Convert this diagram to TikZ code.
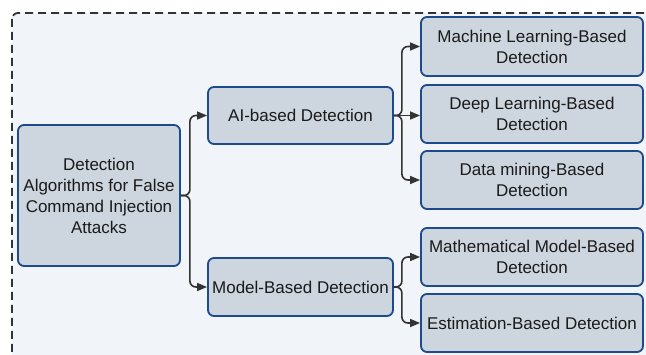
\documentclass[tikz,border=0pt]{standalone}
\usepackage{fontspec}
\setmainfont{Liberation Sans}
\usetikzlibrary{arrows.meta}
\definecolor{framebg}{HTML}{F1F4F8}
\definecolor{boxfill}{HTML}{CDD5DE}
\definecolor{boxline}{HTML}{1C4A8A}
\definecolor{linegray}{HTML}{333333}
\definecolor{txt}{HTML}{1A1A1A}
\tikzset{
  box/.style={draw=boxline, fill=boxfill, line width=1.8pt, rounded corners=6pt,
    inner sep=0pt, align=center, text=txt, font=\fontsize{17}{21}\selectfont},
  conn/.style={draw=linegray, line width=1.6pt, rounded corners=6pt,
    -{Triangle[length=10pt,width=8pt]}},
  frame/.style={draw=linegray, line width=1.8pt, dash pattern=on 8pt off 5pt,
    fill=framebg, rounded corners=6pt}
}
\begin{document}
\begin{tikzpicture}[x=1pt,y=-1pt]
\useasboundingbox (0,0) rectangle (646,355);
\clip (0,0) rectangle (646,355);
\fill[white] (0,0) rectangle (646,355);
\draw[frame] (12,13) rectangle (670,380);

\node[box, minimum width=162pt, minimum height=141pt] (root) at (99,195.5)
  {Detection\\Algorithms for False\\Command Injection\\Attacks};
\node[box, minimum width=185pt, minimum height=57pt] (ai) at (300.5,115.5) {AI-based Detection};
\node[box, minimum width=185pt, minimum height=58pt] (model) at (300.5,287) {Model-Based Detection};
\node[box, minimum width=222pt, minimum height=59pt] (ml) at (532,46.5) {Machine Learning-Based\\Detection};
\node[box, minimum width=222pt, minimum height=58pt] (deep) at (532,114) {Deep Learning-Based\\Detection};
\node[box, minimum width=222pt, minimum height=58pt] (dm) at (532,180) {Data mining-Based\\Detection};
\node[box, minimum width=222pt, minimum height=58pt] (math) at (532,257) {Mathematical Model-Based\\Detection};
\node[box, minimum width=222pt, minimum height=58pt] (est) at (532,323) {Estimation-Based Detection};

\draw[conn] (root.east) -- ++(9,0) |- (ai.west);
\draw[conn] (root.east) -- ++(9,0) |- (model.west);
\draw[conn] (ai.east) -- ++(8,0) |- (ml.west);
\draw[conn] (ai.east) -- (ai.east -| deep.west);
\draw[conn] (ai.east) -- ++(8,0) |- (dm.west);
\draw[conn] (model.east) -- ++(8,0) |- (math.west);
\draw[conn] (model.east) -- ++(8,0) |- (est.west);
\end{tikzpicture}
\end{document}
